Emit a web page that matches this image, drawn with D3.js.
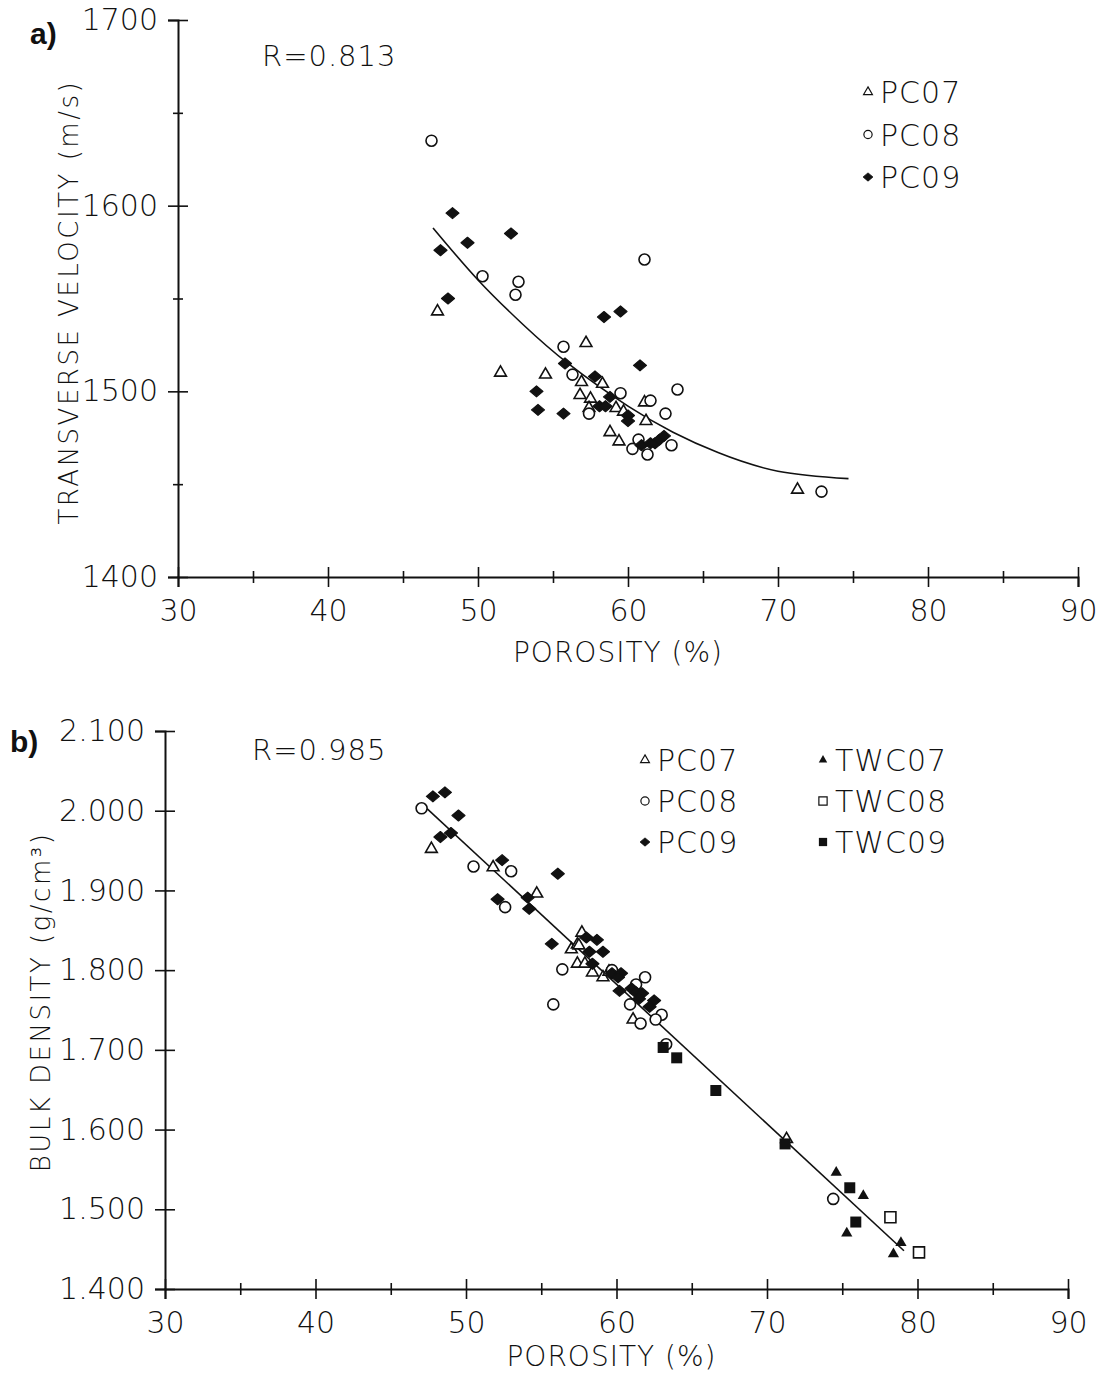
<!DOCTYPE html>
<html>
<head>
<meta charset="utf-8">
<script src="https://cdn.jsdelivr.net/npm/d3@7"></script>
<style>
  body { margin: 0; background: #fff; }
  svg text { font-family: "DejaVu Sans", "Open Sans", sans-serif; font-weight: 200; fill: #111; }
</style>
</head>
<body>
<svg id="chart" width="1104" height="1376"></svg>
<script>
// ---- panel a: porosity (%) vs transverse velocity (m/s)
const aPC07 = [[47.3,1543],[51.5,1510],[54.5,1509],[57.2,1526],[56.9,1505],[56.8,1498],[57.5,1496],
  [57.4,1491],[58.3,1504],[59.2,1491],[59.7,1489],[61.1,1494],[61.2,1484],[58.8,1478],[59.4,1473],[71.3,1447]];
const aPC08 = [[46.9,1635],[50.3,1562],[52.7,1559],[52.5,1552],[61.1,1571],[55.7,1524],[56.3,1509],
  [59.5,1499],[63.3,1501],[61.5,1495],[62.5,1488],[57.4,1488],[60.3,1469],[61.3,1466],[62.9,1471],
  [60.7,1474],[72.9,1446]];
const aPC09 = [[48.3,1596],[47.5,1576],[49.3,1580],[52.2,1585],[48.0,1550],[58.4,1540],[59.5,1543],
  [55.8,1515],[57.8,1508],[60.8,1514],[53.9,1500],[54.0,1490],[55.7,1488],[58.8,1497],[58.1,1492],
  [58.5,1492],[60.0,1487],[60.0,1484],[60.9,1471],[61.5,1472],[61.8,1472],[62.1,1474],[62.4,1476]];
const aFit = [[47,1588],[50,1560],[53,1536],[56,1515],[60,1492],[63,1478],[66,1467],[70,1457],[74.7,1453]];
const aYTicks = [1400, 1500, 1600, 1700];
const aYMinor = [1450, 1550, 1650];

// ---- panel b: porosity (%) vs bulk density (g/cm3)
const bPC07 = [[47.7,1.952],[51.8,1.929],[54.7,1.896],[57.7,1.847],[57.0,1.826],[57.4,1.832],[57.5,1.831],
  [57.4,1.808],[57.9,1.808],[58.4,1.797],[59.1,1.791],[59.5,1.798],[61.1,1.738],[71.3,1.588]];
const bPC08 = [[47.05,2.003],[50.5,1.930],[53.0,1.924],[52.6,1.879],[56.4,1.801],[55.8,1.757],[61.9,1.791],
  [60.9,1.757],[61.6,1.733],[63.0,1.744],[61.3,1.782],[59.7,1.800],[62.6,1.738],[63.3,1.707],[74.4,1.513]];
const bPC09 = [[47.8,2.018],[48.6,2.023],[49.5,1.994],[48.3,1.967],[49.0,1.972],[52.4,1.938],[56.1,1.921],
  [52.1,1.889],[54.1,1.891],[54.2,1.877],[55.7,1.833],[58.0,1.841],[58.7,1.838],[58.2,1.823],[59.1,1.823],
  [58.4,1.808],[59.7,1.796],[60.3,1.796],[60.1,1.791],[60.2,1.774],[61.0,1.777],[61.3,1.772],[61.7,1.771],
  [61.5,1.764],[62.5,1.762],[62.2,1.754]];
const bTWC07 = [[74.6,1.546],[76.4,1.517],[75.3,1.470],[78.9,1.458],[78.4,1.444]];
const bTWC08 = [[78.2,1.490],[80.1,1.446]];
const bTWC09 = [[63.1,1.703],[64.0,1.690],[66.6,1.649],[71.2,1.582],[75.5,1.527],[75.9,1.484]];
const bFit = [[47.05,2.009],[79.1,1.448]];
const bYTicks = [1.4, 1.5, 1.6, 1.7, 1.8, 1.9, 2.0, 2.1];

const xTicks = [30, 40, 50, 60, 70, 80, 90];
const xMinor = [35, 45, 55, 65, 75, 85];

const svg = d3.select('#chart');

// marker shapes
const triPath = d3.symbol(d3.symbolTriangle, 60)();
const squarePath = (s) => `M${-s},${-s}H${s}V${s}H${-s}Z`;
const diamondPath = (w, h) => `M${-w},0L0,${-h}L${w},0L0,${h}Z`;

const markers = {
  PC07: (g) => g.append('path').attr('d', triPath).attr('fill', '#fff').attr('stroke', '#111').attr('stroke-width', 1.6),
  PC08: (g) => g.append('circle').attr('r', 5.5).attr('fill', '#fff').attr('stroke', '#111').attr('stroke-width', 1.6),
  PC09: (g) => g.append('path').attr('d', diamondPath(6.5, 5.5)).attr('fill', '#111').attr('stroke', '#111').attr('stroke-width', 1.2).attr('stroke-linejoin', 'round'),
  TWC07: (g) => g.append('path').attr('d', d3.symbol(d3.symbolTriangle, 55)()).attr('fill', '#111'),
  TWC08: (g) => g.append('path').attr('d', squarePath(5.5)).attr('fill', '#fff').attr('stroke', '#111').attr('stroke-width', 1.6),
  TWC09: (g) => g.append('path').attr('d', squarePath(5.5)).attr('fill', '#111'),
};

function drawAxes(x, y, yTicks, yMinor, yFmt) {
  const g = svg.append('g');
  const y0 = y.range()[0];
  const x0 = x.range()[0];

  // x axis, ticks cross the line
  const xa = g.append('g').attr('transform', `translate(0,${y0})`)
    .call(d3.axisBottom(x).tickValues(xTicks).tickSize(10).tickPadding(10).tickFormat(d3.format('d')));
  xa.selectAll('.tick line').attr('y1', -10);
  const xm = g.append('g').attr('transform', `translate(0,${y0})`)
    .call(d3.axisBottom(x).tickValues(xMinor).tickSize(6).tickFormat(''));
  xm.selectAll('.tick line').attr('y1', -6);
  xm.select('.domain').remove();

  const ya = g.append('g').attr('transform', `translate(${x0},0)`)
    .call(d3.axisLeft(y).tickValues(yTicks).tickSize(10).tickPadding(10).tickFormat(yFmt));
  ya.selectAll('.tick line').attr('x1', 10);
  if (yMinor.length) {
    const ym = g.append('g').attr('transform', `translate(${x0},0)`)
      .call(d3.axisLeft(y).tickValues(yMinor).tickSize(5).tickFormat(''));
    ym.selectAll('.tick line').attr('x1', 5);
    ym.select('.domain').remove();
  }

  g.selectAll('.domain').attr('stroke', '#111').attr('stroke-width', 2);
  g.selectAll('.tick line').attr('stroke', '#111').attr('stroke-width', 1.6);
  g.selectAll('.tick text').style('font-size', '30px').attr('fill', '#111');
  xa.selectAll('.tick text').attr('dy', '0.8em');
  return g;
}

function drawSeries(x, y, data, key) {
  const g = svg.append('g');
  data.forEach((d) => {
    const m = g.append('g').attr('transform', `translate(${x(d[0])},${y(d[1])})`);
    markers[key](m);
  });
}

function drawLegend(x0, y0, keys, step) {
  keys.forEach((k, i) => {
    const m = svg.append('g').attr('transform', `translate(${x0},${y0 + i * step}) scale(0.75)`);
    markers[k](m);
    svg.append('text').attr('x', x0 + 12).attr('y', y0 + i * step + 11)
      .style('font-size', '30px').style('letter-spacing', '1px').text(k);
  });
}

// ================= panel a =================
const xa = d3.scaleLinear().domain([30, 90]).range([178, 1078]);
const ya = d3.scaleLinear().domain([1400, 1700]).range([577, 20]);
drawAxes(xa, ya, aYTicks, aYMinor, d3.format('d'));

svg.append('path').datum(aFit)
  .attr('d', d3.line().x((d) => xa(d[0])).y((d) => ya(d[1])).curve(d3.curveNatural))
  .attr('fill', 'none').attr('stroke', '#111').attr('stroke-width', 1.6);

drawSeries(xa, ya, aPC07, 'PC07');
drawSeries(xa, ya, aPC08, 'PC08');
drawSeries(xa, ya, aPC09, 'PC09');

svg.append('text').attr('x', 30).attr('y', 44).style('font-size', '30px').style('font-weight', 'bold')
  .style('font-family', 'Liberation Sans, sans-serif').text('a)');
svg.append('text').attr('x', 262).attr('y', 66).style('font-size', '29px').style('letter-spacing', '1px').text('R=0.813');
svg.append('text').attr('x', xa(60) - 10).attr('y', 662).attr('text-anchor', 'middle')
  .style('font-size', '28px').style('letter-spacing', '1px').text('POROSITY (%)');
svg.append('text').attr('transform', `translate(78,${ya(1548)}) rotate(-90)`).attr('text-anchor', 'middle')
  .style('font-size', '26px').style('letter-spacing', '2.5px').text('TRANSVERSE VELOCITY (m/s)');
drawLegend(868, 92, ['PC07', 'PC08', 'PC09'], 42.5);

// ================= panel b =================
const xb = d3.scaleLinear().domain([30, 90]).range([165, 1068]);
const yb = d3.scaleLinear().domain([1.4, 2.1]).range([1289, 731]);
drawAxes(xb, yb, bYTicks, [], d3.format('.3f'));

svg.append('path').datum(bFit)
  .attr('d', d3.line().x((d) => xb(d[0])).y((d) => yb(d[1])))
  .attr('fill', 'none').attr('stroke', '#111').attr('stroke-width', 1.6);

drawSeries(xb, yb, bPC07, 'PC07');
drawSeries(xb, yb, bPC08, 'PC08');
drawSeries(xb, yb, bPC09, 'PC09');
drawSeries(xb, yb, bTWC07, 'TWC07');
drawSeries(xb, yb, bTWC08, 'TWC08');
drawSeries(xb, yb, bTWC09, 'TWC09');

svg.append('text').attr('x', 10).attr('y', 752).style('font-size', '30px').style('font-weight', 'bold')
  .style('font-family', 'Liberation Sans, sans-serif').text('b)');
svg.append('text').attr('x', 252).attr('y', 760).style('font-size', '29px').style('letter-spacing', '1px').text('R=0.985');
svg.append('text').attr('x', xb(60) - 5).attr('y', 1366).attr('text-anchor', 'middle')
  .style('font-size', '28px').style('letter-spacing', '1px').text('POROSITY (%)');
svg.append('text').attr('transform', `translate(50,${yb(1.76)}) rotate(-90)`).attr('text-anchor', 'middle')
  .style('font-size', '26px').style('letter-spacing', '2.5px').text('BULK DENSITY (g/cm³)');
drawLegend(645, 760, ['PC07', 'PC08', 'PC09'], 41);
drawLegend(823, 760, ['TWC07', 'TWC08', 'TWC09'], 41);
</script>
</body>
</html>
